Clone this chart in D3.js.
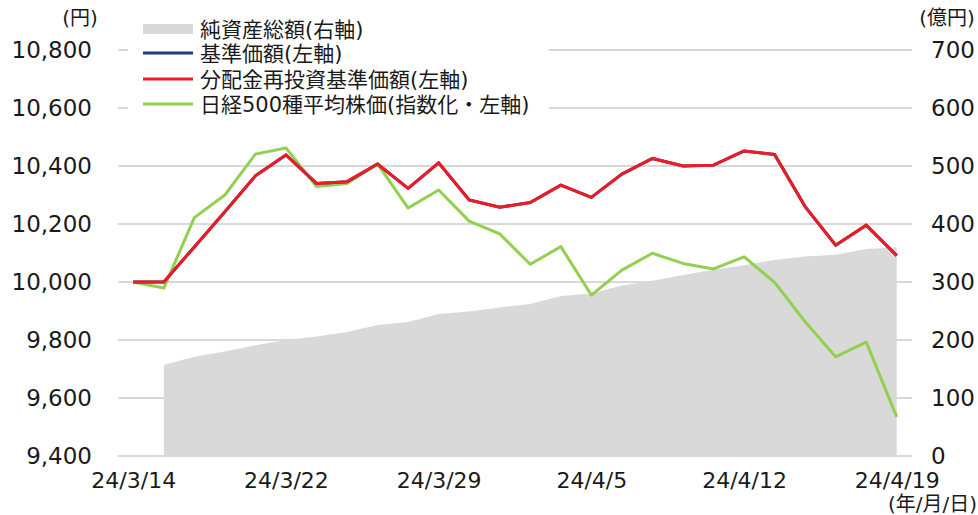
<!DOCTYPE html>
<html>
<head>
<meta charset="utf-8">
<script src="https://cdn.jsdelivr.net/npm/d3@7"></script>
<style>
  body { margin: 0; background: #fff; }
  text { font-family: "DejaVu Sans", "Noto Sans CJK JP", sans-serif; fill: #1a1a1a; }
</style>
</head>
<body>
<script>
// business days 24/3/14 - 24/4/19 (3/20 holiday)
var dates = ["24/3/14","24/3/15","24/3/18","24/3/19","24/3/21","24/3/22","24/3/25","24/3/26","24/3/27","24/3/28","24/3/29",
             "24/4/1","24/4/2","24/4/3","24/4/4","24/4/5","24/4/8","24/4/9","24/4/10","24/4/11","24/4/12",
             "24/4/15","24/4/16","24/4/17","24/4/18","24/4/19"];
var tickDates = ["24/3/14","24/3/22","24/3/29","24/4/5","24/4/12","24/4/19"];

//純資産総額 (億円), no value on the first day
var netAssets = [null,157,171,180,191,200,206,214,226,231,245,249,256,262,276,280,294,302,312,321,329,338,344,347,357,360];
//基準価額 and 分配金再投資基準価額 (same, no distributions yet)
var nav = [10000,10000,10121,10242,10366,10438,10340,10346,10407,10323,10411,10283,10258,10274,10334,10292,10372,10426,10400,10403,10452,10440,10260,10127,10196,10091];
var navReinvest = nav.slice();
//日経500種平均株価 (indexed)
var nikkei500 = [10000,9979,10222,10300,10441,10462,10329,10340,10407,10255,10317,10210,10166,10061,10122,9955,10041,10099,10064,10045,10087,9999,9863,9742,9793,9535];

var leftTicks = [9400,9600,9800,10000,10200,10400,10600,10800];
var rightTicks = [0,100,200,300,400,500,600,700];

var legendNames = ["純資産総額(右軸)","基準価額(左軸)","分配金再投資基準価額(左軸)","日経500種平均株価(指数化・左軸)"];

var W = 978, H = 515;
var margin = { top: 50, right: 66, bottom: 59, left: 118 };
var width = W - margin.left - margin.right,
    height = H - margin.top - margin.bottom;

var svg = d3.select("body").append("svg")
    .attr("width", W)
    .attr("height", H);

var g = svg.append("g")
    .attr("transform", "translate(" + margin.left + "," + margin.top + ")");

var x = d3.scalePoint().domain(dates).range([0, width]).padding(0.5);
var yL = d3.scaleLinear().domain([9400, 10800]).range([height, 0]);
var yR = d3.scaleLinear().domain([0, 700]).range([height, 0]);

//gridlines
g.selectAll(".grid").data(leftTicks).enter().append("line")
    .attr("x1", 0).attr("x2", width)
    .attr("y1", function(d) { return yL(d); })
    .attr("y2", function(d) { return yL(d); })
    .style("stroke", "#d9d9d9")
    .style("stroke-width", 2);

//white box behind legend breaks the gridlines
svg.append("rect")
    .attr("x", 128).attr("y", 14)
    .attr("width", 421).attr("height", 104)
    .style("fill", "#fff");

//net assets area on right axis
var area = d3.area()
    .defined(function(d) { return d != null; })
    .x(function(d, i) { return x(dates[i]); })
    .y0(height)
    .y1(function(d) { return yR(d); });

g.append("path")
    .attr("d", area(netAssets))
    .style("fill", "#d9d9d9");

var line = d3.line()
    .x(function(d, i) { return x(dates[i]); })
    .y(function(d) { return yL(d); });

g.append("path").attr("d", line(nikkei500))
    .style("fill", "none").style("stroke", "#92d050").style("stroke-width", 3)
    .style("stroke-linejoin", "round");
g.append("path").attr("d", line(nav))
    .style("fill", "none").style("stroke", "#1f3c88").style("stroke-width", 3);
g.append("path").attr("d", line(navReinvest))
    .style("fill", "none").style("stroke", "#ed1c24").style("stroke-width", 3)
    .style("stroke-linejoin", "round");

//left axis
var yAxisL = d3.axisLeft(yL).tickValues(leftTicks).tickSize(0).tickPadding(26)
    .tickFormat(d3.format(","));
g.append("g").call(yAxisL)
  .call(function(s) { s.select(".domain").remove(); })
  .selectAll("text")
    .style("font-size", "23px")
    .style("font-family", "DejaVu Sans, Noto Sans CJK JP");

//right axis
var yAxisR = d3.axisRight(yR).tickValues(rightTicks).tickSize(0).tickPadding(19);
g.append("g").attr("transform", "translate(" + width + ",0)").call(yAxisR)
  .call(function(s) { s.select(".domain").remove(); })
  .selectAll("text")
    .style("font-size", "23px")
    .style("font-family", "DejaVu Sans, Noto Sans CJK JP");

//x axis
var xAxis = d3.axisBottom(x).tickValues(tickDates).tickSize(0).tickPadding(16);
g.append("g").attr("transform", "translate(0," + height + ")").call(xAxis)
  .call(function(s) { s.select(".domain").remove(); })
  .selectAll("text")
    .style("font-size", "22px")
    .style("font-family", "DejaVu Sans, Noto Sans CJK JP");

//unit labels
svg.append("text").attr("x", 80).attr("y", 25).attr("text-anchor", "middle")
    .style("font-size", "20px").text("(円)");
svg.append("text").attr("x", 947).attr("y", 25).attr("text-anchor", "middle")
    .style("font-size", "20px").text("(億円)");
svg.append("text").attr("x", 977).attr("y", 511).attr("text-anchor", "end")
    .style("font-size", "20px").text("(年/月/日)");

//legend
var legendY = [29, 53, 79, 104];
var leg = svg.append("g");
leg.append("rect").attr("x", 143).attr("y", legendY[0] - 5).attr("width", 50).attr("height", 10)
    .style("fill", "#d9d9d9");
var legColors = ["#1f3c88", "#ed1c24", "#92d050"];
legColors.forEach(function(c, i) {
  leg.append("line")
    .attr("x1", 143).attr("x2", 193)
    .attr("y1", legendY[i + 1]).attr("y2", legendY[i + 1])
    .style("stroke", c).style("stroke-width", 3);
});
leg.selectAll(".lt").data(legendNames).enter().append("text")
    .attr("x", 200)
    .attr("y", function(d, i) { return legendY[i]; })
    .attr("dy", "0.36em")
    .style("font-size", "21px")
    .text(function(d) { return d; });
</script>
</body>
</html>
